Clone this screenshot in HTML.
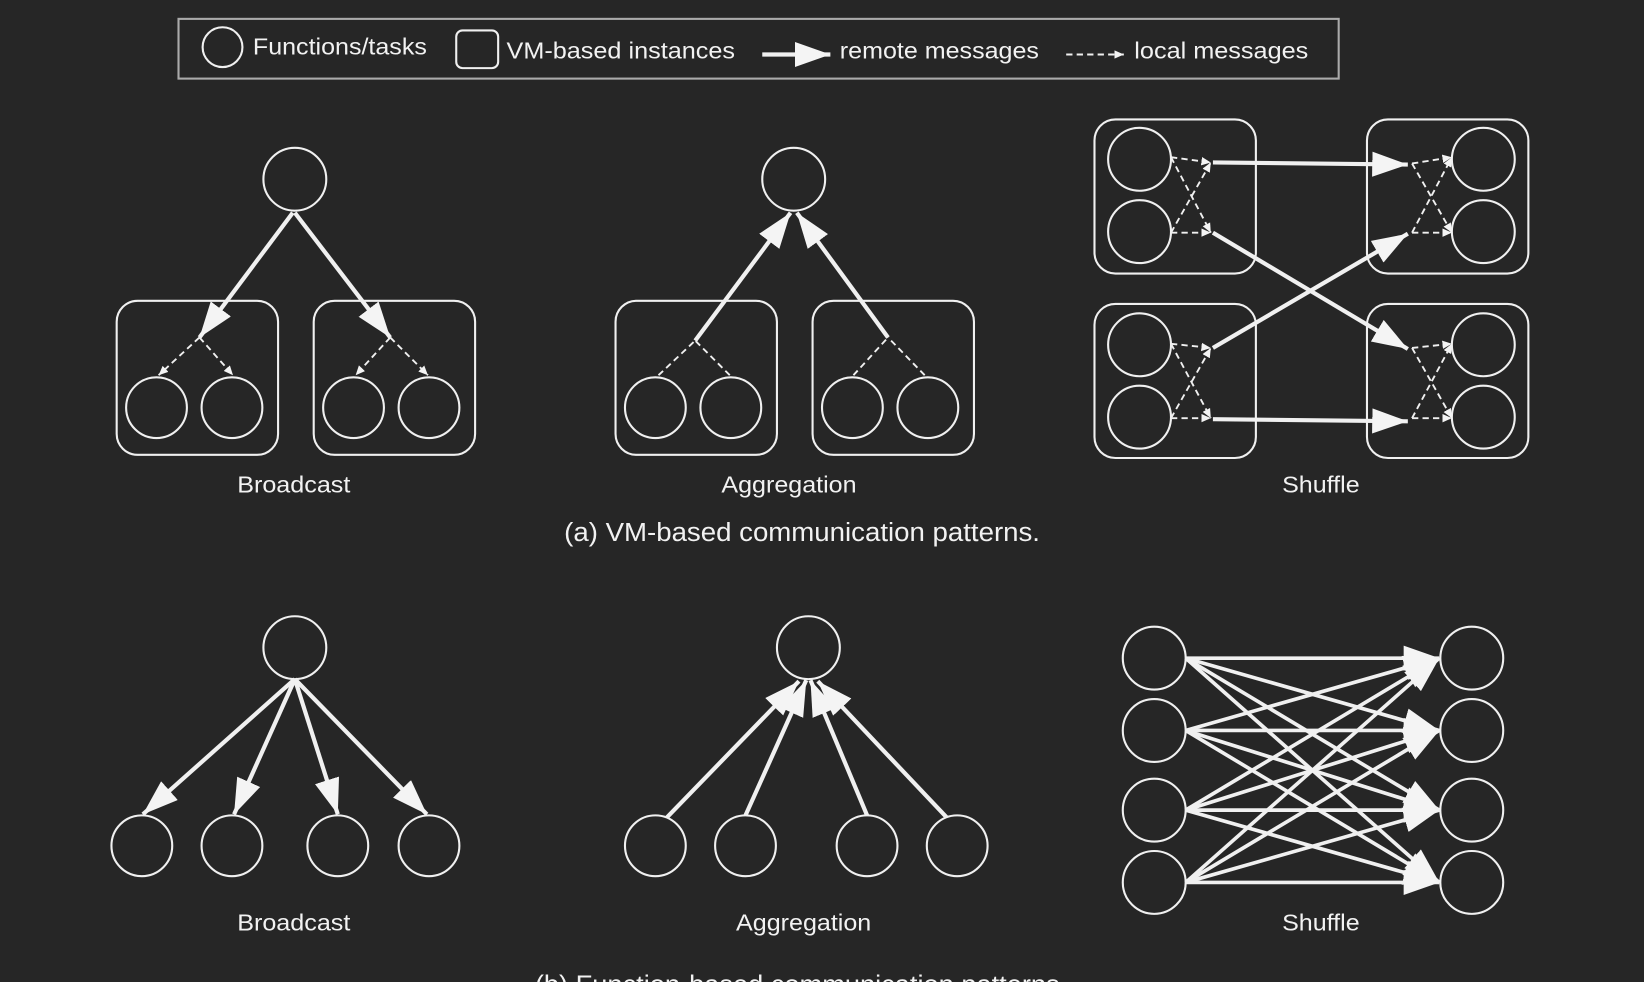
<!DOCTYPE html>
<html><head><meta charset="utf-8"><style>
html,body{margin:0;padding:0;background:#262626;}
svg{display:block;}
text{font-family:"Liberation Sans",sans-serif;fill:#f2f2f2;}
</style></head><body>
<svg width="1644" height="982" viewBox="0 0 1568 937" xmlns="http://www.w3.org/2000/svg">
<defs>
<marker id="big" markerUnits="userSpaceOnUse" markerWidth="40" markerHeight="30" refX="34" refY="12" orient="auto"><path d="M0,0 L34,12 L0,24 Z" fill="#f4f4f4"/></marker>
<marker id="sm" markerUnits="userSpaceOnUse" markerWidth="12" markerHeight="10" refX="9" refY="4" orient="auto"><path d="M0,0 L9,4 L0,8 Z" fill="#f4f4f4"/></marker>
</defs>
<rect width="1568" height="937" fill="#262626"/>
<g fill="none" stroke="#f0f0f0">
<rect x="170" y="18" width="1107" height="57" stroke="#aaa" stroke-width="2"/>
<circle cx="212" cy="45" r="19" stroke-width="2"/>
<rect x="435" y="29" width="40" height="36" rx="6" stroke-width="2"/>
<line x1="727" y1="52" x2="792" y2="52" stroke-width="4" marker-end="url(#big)"/>
<line x1="1017" y1="52" x2="1072" y2="52" stroke-width="1.8" stroke-dasharray="6,4" marker-end="url(#sm)"/>
</g>
<g font-size="22">
<text x="241" y="52" textLength="166" lengthAdjust="spacingAndGlyphs">Functions/tasks</text>
<text x="483" y="56" textLength="218" lengthAdjust="spacingAndGlyphs">VM-based instances</text>
<text x="801" y="56" textLength="190" lengthAdjust="spacingAndGlyphs">remote messages</text>
<text x="1082" y="56" textLength="166" lengthAdjust="spacingAndGlyphs">local messages</text>
</g>

<g fill="none" stroke="#f0f0f0" stroke-width="2">
<circle cx="281" cy="171" r="30"/>
<rect x="111" y="287" width="154" height="147" rx="20"/>
<rect x="299" y="287" width="154" height="147" rx="20"/>
<circle cx="149" cy="389" r="29"/><circle cx="221" cy="389" r="29"/>
<circle cx="337" cy="389" r="29"/><circle cx="409" cy="389" r="29"/>
<line x1="279" y1="203" x2="190" y2="322" stroke-width="4" marker-end="url(#big)"/>
<line x1="281" y1="203" x2="372" y2="322" stroke-width="4" marker-end="url(#big)"/>
<g stroke-width="1.8" stroke-dasharray="6,4">
<line x1="190" y1="322" x2="151" y2="358" marker-end="url(#sm)"/>
<line x1="190" y1="322" x2="222" y2="358" marker-end="url(#sm)"/>
<line x1="372" y1="322" x2="339" y2="358" marker-end="url(#sm)"/>
<line x1="372" y1="322" x2="408" y2="358" marker-end="url(#sm)"/>
</g>
<circle cx="757" cy="171" r="30"/>
<rect x="587" y="287" width="154" height="147" rx="20"/>
<rect x="775" y="287" width="154" height="147" rx="20"/>
<circle cx="625" cy="389" r="29"/><circle cx="697" cy="389" r="29"/>
<circle cx="813" cy="389" r="29"/><circle cx="885" cy="389" r="29"/>
<line x1="663" y1="325" x2="754" y2="203" stroke-width="4" marker-end="url(#big)"/>
<line x1="847" y1="322" x2="760" y2="203" stroke-width="4" marker-end="url(#big)"/>
<g stroke-width="1.8" stroke-dasharray="6,4">
<line x1="628" y1="358" x2="663" y2="325"/>
<line x1="696" y1="358" x2="663" y2="325"/>
<line x1="814" y1="358" x2="847" y2="322"/>
<line x1="882" y1="358" x2="847" y2="322"/>
</g>
<rect x="1044" y="114" width="154" height="147" rx="20"/>
<rect x="1304" y="114" width="154" height="147" rx="20"/>
<rect x="1044" y="290" width="154" height="147" rx="20"/>
<rect x="1304" y="290" width="154" height="147" rx="20"/>
<circle cx="1087" cy="152" r="30"/><circle cx="1087" cy="221" r="30"/>
<circle cx="1087" cy="329" r="30"/><circle cx="1087" cy="398" r="30"/>
<circle cx="1415" cy="152" r="30"/><circle cx="1415" cy="221" r="30"/>
<circle cx="1415" cy="329" r="30"/><circle cx="1415" cy="398" r="30"/>
<g stroke-width="1.8" stroke-dasharray="6,4">
<line x1="1117" y1="150" x2="1155" y2="155" marker-end="url(#sm)"/>
<line x1="1117" y1="222" x2="1155" y2="222" marker-end="url(#sm)"/>
<line x1="1117" y1="150" x2="1155" y2="222" marker-end="url(#sm)"/>
<line x1="1117" y1="222" x2="1155" y2="155" marker-end="url(#sm)"/>
<line x1="1117" y1="328" x2="1155" y2="332" marker-end="url(#sm)"/>
<line x1="1117" y1="399" x2="1155" y2="399" marker-end="url(#sm)"/>
<line x1="1117" y1="328" x2="1155" y2="399" marker-end="url(#sm)"/>
<line x1="1117" y1="399" x2="1155" y2="332" marker-end="url(#sm)"/>
<line x1="1347" y1="156" x2="1385" y2="150" marker-end="url(#sm)"/>
<line x1="1347" y1="222" x2="1385" y2="222" marker-end="url(#sm)"/>
<line x1="1347" y1="156" x2="1385" y2="222" marker-end="url(#sm)"/>
<line x1="1347" y1="222" x2="1385" y2="150" marker-end="url(#sm)"/>
<line x1="1347" y1="332" x2="1385" y2="328" marker-end="url(#sm)"/>
<line x1="1347" y1="399" x2="1385" y2="399" marker-end="url(#sm)"/>
<line x1="1347" y1="332" x2="1385" y2="399" marker-end="url(#sm)"/>
<line x1="1347" y1="399" x2="1385" y2="328" marker-end="url(#sm)"/>
</g>
<g stroke-width="4">
<line x1="1157" y1="155" x2="1343" y2="157" marker-end="url(#big)"/>
<line x1="1157" y1="222" x2="1343" y2="333" marker-end="url(#big)"/>
<line x1="1157" y1="332" x2="1343" y2="223" marker-end="url(#big)"/>
<line x1="1157" y1="400" x2="1343" y2="402" marker-end="url(#big)"/>
</g>

<circle cx="281" cy="618" r="30"/>
<circle cx="135" cy="807" r="29"/><circle cx="221" cy="807" r="29"/>
<circle cx="322" cy="807" r="29"/><circle cx="409" cy="807" r="29"/>
<g stroke-width="4">
<line x1="281" y1="648" x2="136" y2="777" marker-end="url(#big)"/>
<line x1="281" y1="648" x2="223" y2="777" marker-end="url(#big)"/>
<line x1="281" y1="648" x2="322" y2="777" marker-end="url(#big)"/>
<line x1="281" y1="648" x2="407" y2="777" marker-end="url(#big)"/>
</g>
<circle cx="771" cy="618" r="30"/>
<circle cx="625" cy="807" r="29"/><circle cx="711" cy="807" r="29"/>
<circle cx="827" cy="807" r="29"/><circle cx="913" cy="807" r="29"/>
<g stroke-width="4">
<line x1="636" y1="780" x2="762" y2="650" marker-end="url(#big)"/>
<line x1="711" y1="778" x2="769" y2="649" marker-end="url(#big)"/>
<line x1="827" y1="778" x2="773" y2="649" marker-end="url(#big)"/>
<line x1="903" y1="780" x2="780" y2="650" marker-end="url(#big)"/>
</g>
<circle cx="1101" cy="628" r="30"/><circle cx="1101" cy="697" r="30"/>
<circle cx="1101" cy="773" r="30"/><circle cx="1101" cy="842" r="30"/>
<circle cx="1404" cy="628" r="30"/><circle cx="1404" cy="697" r="30"/>
<circle cx="1404" cy="773" r="30"/><circle cx="1404" cy="842" r="30"/>
<g stroke-width="3.5">
<line x1="1131" y1="628" x2="1373" y2="628" marker-end="url(#big)"/>
<line x1="1131" y1="628" x2="1373" y2="697" marker-end="url(#big)"/>
<line x1="1131" y1="628" x2="1373" y2="773" marker-end="url(#big)"/>
<line x1="1131" y1="628" x2="1373" y2="842" marker-end="url(#big)"/>
<line x1="1131" y1="697" x2="1373" y2="628" marker-end="url(#big)"/>
<line x1="1131" y1="697" x2="1373" y2="697" marker-end="url(#big)"/>
<line x1="1131" y1="697" x2="1373" y2="773" marker-end="url(#big)"/>
<line x1="1131" y1="697" x2="1373" y2="842" marker-end="url(#big)"/>
<line x1="1131" y1="773" x2="1373" y2="628" marker-end="url(#big)"/>
<line x1="1131" y1="773" x2="1373" y2="697" marker-end="url(#big)"/>
<line x1="1131" y1="773" x2="1373" y2="773" marker-end="url(#big)"/>
<line x1="1131" y1="773" x2="1373" y2="842" marker-end="url(#big)"/>
<line x1="1131" y1="842" x2="1373" y2="628" marker-end="url(#big)"/>
<line x1="1131" y1="842" x2="1373" y2="697" marker-end="url(#big)"/>
<line x1="1131" y1="842" x2="1373" y2="773" marker-end="url(#big)"/>
<line x1="1131" y1="842" x2="1373" y2="842" marker-end="url(#big)"/>
</g>
</g>

<g font-size="22">
<text x="226" y="470" textLength="108" lengthAdjust="spacingAndGlyphs">Broadcast</text>
<text x="688" y="470" textLength="129" lengthAdjust="spacingAndGlyphs">Aggregation</text>
<text x="1223" y="470" textLength="74" lengthAdjust="spacingAndGlyphs">Shuffle</text>
<text x="226" y="888" textLength="108" lengthAdjust="spacingAndGlyphs">Broadcast</text>
<text x="702" y="888" textLength="129" lengthAdjust="spacingAndGlyphs">Aggregation</text>
<text x="1223" y="888" textLength="74" lengthAdjust="spacingAndGlyphs">Shuffle</text>
</g>
<g font-size="25">
<text x="538" y="516" textLength="454" lengthAdjust="spacingAndGlyphs">(a) VM-based communication patterns.</text>
<text x="510" y="948" textLength="508" lengthAdjust="spacingAndGlyphs">(b) Function-based communication patterns.</text>
</g>
</svg>
</body></html>
